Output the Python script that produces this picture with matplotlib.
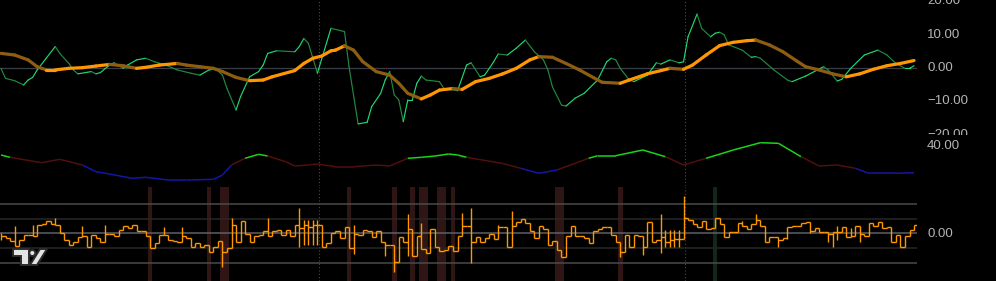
import numpy as np
import matplotlib
matplotlib.use('Agg')
import matplotlib.pyplot as plt
from matplotlib.collections import LineCollection
from matplotlib.patches import Polygon, Ellipse
from matplotlib.transforms import Bbox, TransformedBbox

# ---- data (x = bar index) ----
# oscillator (thin green line), sampled at bars
osc_bar = [0, 1, 3, 5, 6, 7, 8, 10, 12, 13, 15, 16, 17, 20, 21, 22, 24, 25, 27, 28,
           30, 32, 34, 37, 39, 42, 44, 46, 47, 48, 49, 50, 52, 53, 55, 57, 58, 59, 61, 65,
           66, 67, 68, 69, 70, 73, 76, 77, 79, 81, 82, 84, 85, 86, 87, 88, 89, 90, 91, 92,
           93, 94, 97, 98, 101, 103, 104, 106, 107, 109, 110, 112, 114, 116, 118, 120, 121, 122, 124, 125,
           127, 129, 132, 134, 135, 136, 137, 139, 140, 143, 145, 146, 148, 150, 151, 152, 154, 155, 157, 158,
           159, 160, 161, 164, 166, 167, 168, 171, 174, 175, 178, 182, 183, 185, 186, 188, 191, 194, 196, 198,
           200, 201, 202]
osc_val = [-0.1, -3.2, -3.9, -5.2, -3.7, -2.9, -0.6, 3.0, 6.6, 4.5, 1.4, -0.6, -1.8, -1.1, -1.8, -1.4, 0.9, 1.6, -0.1, 0.9,
           2.5, 3.0, 1.9, 0.6, -0.6, -1.6, -2.2, -0.6, -0.4, -0.9, -2.2, -6.3, -12.9, -8.8, -2.7, -1.1, 0.9, 4.5, 5.3, 5.0,
           6.6, 9.1, 7.6, 3.0, -1.6, 12.2, 11.2, 0.4, -17.2, -16.7, -11.9, -7.8, -3.7, -1.1, -8.3, -9.8, -16.5, -9.8, -9.8, -4.7,
           -2.5, -3.7, -4.2, -6.3, -7.0, 0.9, 1.6, -2.7, -2.2, 1.9, 4.3, 4.0, 6.1, 8.6, 5.0, 2.5, -0.6, -5.8, -11.4, -11.7,
           -9.3, -7.8, -3.7, 1.9, 3.0, 2.5, -0.1, -3.7, -4.2, -2.2, 1.6, 1.2, 2.5, 1.6, 1.9, 9.6, 16.6, 12.2, 9.6, 10.7,
           11.0, 10.2, 7.1, 5.5, 3.3, 3.5, 3.0, -0.6, -3.7, -4.2, -2.5, 0.4, -0.6, -4.0, -3.5, -0.1, 4.0, 5.5, 4.0, 1.4,
           -0.1, -0.1, 0.7]

# signal (thick orange line)
sig_bar = [0, 3, 6, 8, 10, 12, 15, 18, 21, 24, 27, 30, 32, 35, 39, 41, 44, 47, 49, 52,
           55, 58, 60, 65, 67, 69, 71, 73, 74, 76, 78, 80, 83, 86, 88, 90, 93, 95, 97, 100,
           102, 105, 108, 111, 114, 117, 119, 122, 125, 128, 131, 133, 137, 139, 143, 146, 148, 151, 153, 156,
           159, 162, 165, 167, 170, 173, 176, 178, 181, 184, 187, 190, 193, 196, 199, 202]
sig_val = [4.5, 4.0, 2.5, 0.4, -0.6, -0.6, -0.1, 0.1, 0.6, 1.1, 0.7, -0.1, 0.2, 0.9, 1.4, 0.9, 0.4, -0.1, -1.1, -2.9,
           -3.9, -3.7, -2.7, -0.8, 1.4, 3.0, 3.7, 5.3, 5.5, 6.8, 5.5, 2.0, -1.1, -2.2, -4.7, -7.8, -9.5, -8.3, -6.8, -6.3,
           -6.6, -4.2, -3.2, -1.8, -0.1, 2.5, 3.5, 3.3, 1.4, -0.6, -2.9, -4.4, -4.7, -3.7, -1.8, -0.8, -0.1, -0.4, 0.9, 4.0,
           6.9, 7.9, 8.4, 8.6, 7.1, 5.0, 2.2, 0.4, -0.6, -1.8, -2.7, -1.8, -0.4, 0.7, 1.4, 2.3]

# strength line (middle pane)
str_bar = [0, 2, 9, 13, 18, 21, 24, 29, 32, 37, 41, 47, 49, 51, 54, 57, 59, 63, 65, 68,
           70, 74, 78, 83, 86, 90, 93, 96, 99, 101, 103, 111, 115, 119, 123, 130, 132, 136, 142, 147,
           151, 156, 162, 168, 172, 177, 181, 185, 189, 192, 198, 202]
str_val = [35.5, 34.35, 31.65, 33.35, 30.5, 27.15, 26.0, 23.85, 24.35, 23.0, 23.0, 23.35, 25.5, 30.5, 33.85, 35.85, 35.0, 32.15, 30.0, 30.5,
           31.0, 29.65, 29.65, 30.5, 30.0, 33.85, 34.35, 35.0, 36.0, 35.5, 34.35, 31.25, 28.85, 26.35, 28.0, 33.85, 35.15, 35.15, 38.0, 34.65,
           30.5, 33.85, 38.0, 41.65, 41.35, 34.65, 30.0, 30.5, 28.85, 26.35, 26.35, 26.65]
str_hi, str_lo = 34.0, 29.2

# bottom pane bars (close per bar, open = previous close)
closes = [-0.20, -0.32, -0.50, -0.84, -0.43, -0.09, -0.09, -0.20, 0.55, 0.64,
          0.82, 0.64, 0.59, 0.02, -0.43, -0.77, -0.55, -0.27, -0.20, -0.89,
          -0.09, -0.32, -0.55, -0.05, -0.05, -0.20, 0.25, 0.48, 0.36, 0.59,
          0.18, 0.14, -0.20, -1.00, -0.66, -0.09, -0.09, -0.43, -0.50, -0.55,
          -0.20, -0.32, -0.89, -0.66, -0.89, -0.77, -1.27, -0.89, -0.50, -1.23,
          -1.00, 0.59, -0.55,
          0.86, -0.05, -0.59, -0.20, -0.09, 0.14, -0.20, 0.18, 0.25, -0.09,
          0.25, -0.14, 0.59, 0.36, 0.59, 0.43, 0.55, 0.59, -0.89, -0.66,
          0.02, 0.14, -0.32, 0.41, -1.00, -0.05, -0.09, 0.25, 0.14, -0.27,
          0.14, -0.59, -0.77, -0.77, -1.95, -0.27, -0.59, 0.30, -1.52, -0.16,
          -1.07, -1.34, 0.32, -0.89, -1.18, -1.11, -0.84, -1.18, -0.16, 0.50,
          0.50, -0.55, -0.27,
          -0.55, -0.32, -0.05, -0.36, 0.41, 0.41, -0.89, 0.48, 0.77, 1.00,
          0.70, 0.18, -0.32, 0.48, 0.30, -0.77, -0.50, -1.14, -1.57, -0.16,
          0.48, -0.20, -0.20, -0.32, -0.66, 0.14, 0.32, 0.41, 0.41, -0.09,
          -0.59, -1.23, -0.09, -0.89, -0.09, -0.20, -0.89, 0.77, -0.55, -0.43,
          -0.27, -0.59, -0.43, -0.36, -0.36, 1.05, 0.93, 0.64, 0.41, 0.82,
          0.32, 0.36, 1.05,
          0.64, -0.27, 0.07, 0.07, 0.70, 0.48, 0.30, 0.64, 0.93, 0.48,
          -0.55, -0.27, -0.27, -0.43, -0.32, 0.41, 0.48, 0.48, 0.70, 0.77,
          0.18, 0.36, 0.09, 0.09, -0.05, 0.09, 0.09, 0.41, -0.27, -0.14,
          0.48, -0.05, -0.14, 0.70, 0.48, 0.77, 0.36, 0.41, -0.55, -0.09,
          -0.89, -0.14, 0.25, 0.55]
# bars whose high/low reach past open and close
spike_idx = [0, 3, 7, 12, 18, 23, 36, 40, 49, 51, 59, 66, 67, 68, 69, 70, 78, 85, 87, 90,
             93, 102, 104, 110, 113, 124, 137, 142, 146, 147, 148, 149, 150, 151, 164, 167, 172, 174, 179, 183,
             184, 185, 188, 190]
spike_hi = [0.02, 0.48, 0.55, 1.05, 0.48, 0.55, 0.41, 0.41, -0.5, 1.05, 1.05, 1.71, 0.93, 0.93, 0.93, 0.93, 0.57, -0.59, -0.77, 1.33,
            0.7, 1.4, 1.7, 0.6, 1.5, -1.14, -0.59, -0.2, 1.32, 0.25, 0.25, 0.25, 0.25, 2.57, 0.82, 1.32, -0.27, 0.41, 0.77, 0.09,
            0.09, 0.5, 0.36, 0.48]
spike_lo = [-0.43, -0.84, -0.20, 0.59, -0.20, -0.05, -0.09, -0.20, -2.25, -1.0, -0.2, -0.89, -0.77, -0.77, -0.77, -0.77, -1.4, -1.5, -2.6, -1.5,
            -1.07, -0.16, -2.0, -0.36, -0.89, -1.6, -1.57, -1.45, -1.3, -0.9, -0.9, -0.9, -0.9, -0.36, 0.48, 0.64, -0.95, -0.39, 0.0, -0.55,
            -0.89, -0.45, -0.14, -0.59]
bear_bars = [33, 46, 49, 50, 77, 87, 91, 93, 94, 97, 98, 100, 123, 124, 137]
bull_bars = [158]
session_breaks = [70.4, 151.3]
band_levels = [2, 1, 0, -1, -2]

# ---- layout ----
W, H = 996, 281
PLOT_W = 917
BAR_PX = 4.52
BG = '#000000'
LABEL = '#b4b4b4'

fig = plt.figure(figsize=(W / 100, H / 100), dpi=100, facecolor=BG)


def panel(top_px, bot_px):
    ax = fig.add_axes([0, 1 - bot_px / H, PLOT_W / W, (bot_px - top_px) / H])
    ax.set_facecolor(BG)
    ax.set_xlim(-1 / BAR_PX, (PLOT_W - 1) / BAR_PX)
    ax.set_xticks([])
    ax.set_yticks([])
    for s in ax.spines.values():
        s.set_visible(False)
    for b in session_breaks:
        ax.axvline(b, color='#4a4a4a', lw=0.8, ls=(0, (1, 2)), zorder=1)
    return ax


def slope_line(ax, x, y, up, down, lw, z=3):
    pts = np.column_stack([x, y])
    segs = np.stack([pts[:-1], pts[1:]], axis=1)
    cols = [up if y[i + 1] >= y[i] else down for i in range(len(y) - 1)]
    lc = LineCollection(segs, colors=cols, linewidths=lw, capstyle='round', joinstyle='round', zorder=z)
    ax.add_collection(lc)


def axis_label(text, y_px, top_px, bot_px):
    t = fig.text(927 / W, 1 - y_px / H, text, color=LABEL, fontsize=9.5,
                 family='Liberation Sans', ha='left', va='center')
    t.set_clip_box(TransformedBbox(Bbox([[PLOT_W / W, 1 - bot_px / H], [1, 1 - top_px / H]]), fig.transFigure))
    t.set_clip_on(True)


# top pane: oscillator + signal
ax1 = panel(0, 136)
ax1.set_ylim(-20.92, 20.92)
ax1.axhline(0, color='#3a3d45', lw=0.9, zorder=1)
slope_line(ax1, np.array(osc_bar, float), np.array(osc_val), '#1fd874', '#23893f', 0.85)
slope_line(ax1, np.array(sig_bar, float), np.array(sig_val), '#ff9800', '#8f5d10', 2.3, z=4)
for v, ypx in [(20, 1.5), (10, 35), (0, 68), (-10, 101), (-20, 134.7)]:
    txt = ('−' if v < 0 else '') + f'{abs(v):.2f}'
    axis_label(txt, ypx, 0, 135.5)

# middle pane: strength line coloured by level
ax2 = panel(137, 186)
ax2.set_ylim(20, 44.5)
sx = np.array(str_bar, float)
sy = np.array(str_val)
segs = np.stack([np.column_stack([sx, sy])[:-1], np.column_stack([sx, sy])[1:]], axis=1)
cols = []
for i in range(len(sy) - 1):
    m = (sy[i] + sy[i + 1]) / 2
    cols.append('#19d419' if m > str_hi else ('#1515a8' if m < str_lo else '#520f0f'))
ax2.add_collection(LineCollection(segs, colors=cols, linewidths=1.1, zorder=3))
axis_label('40.00', 145.5, 136, 186)

# bottom pane: stepped bars
ax3 = panel(187, 281)
ax3.set_ylim(-3.23, 3.16)
for lv in band_levels:
    c = '#5e6066' if lv == 0 else ('#4a4a4a' if abs(lv) == 2 else '#262626')
    ax3.axhline(lv, color=c, lw=1.1, zorder=1)
for b in bear_bars:
    ax3.axvspan(b - 0.5, b + 0.5, color='#301515', lw=0, zorder=0)
for b in bull_bars:
    ax3.axvspan(b - 0.5, b + 0.5, color='#12261a', lw=0, zorder=0)

c = np.array(closes)
x = np.arange(len(c))
opens = np.concatenate([[c[0]], c[:-1]])
hi = np.maximum(opens, c)
lo = np.minimum(opens, c)
for i, h, l in zip(spike_idx, spike_hi, spike_lo):
    hi[i] = max(hi[i], h)
    lo[i] = min(lo[i], l)
ax3.vlines(x, lo, hi, color='#ff9800', lw=1.0, zorder=3)
ax3.hlines(c, x, x + 1, color='#ff9800', lw=1.0, zorder=3)
axis_label('0.00', 234, 187, 281)

# watermark logo
def fpx(pts):
    return [(px / W, 1 - py / H) for px, py in pts]

logo_kw = dict(transform=fig.transFigure, facecolor='#e4e4e4', edgecolor='#2c2c2c', lw=1.4, zorder=10)
fig.patches.append(Polygon(fpx([(13.3, 249), (29.3, 249), (29.3, 265), (20.7, 265), (20.7, 255.5), (13.3, 255.5)]), **logo_kw))
fig.patches.append(Ellipse((32.3 / W, 1 - 253 / H), 6 / W, 6 / H, **logo_kw))
fig.patches.append(Polygon(fpx([(30, 265), (37, 265), (47, 249), (40, 249)]), **logo_kw))

fig.savefig('out.png', dpi=100, facecolor=BG)
